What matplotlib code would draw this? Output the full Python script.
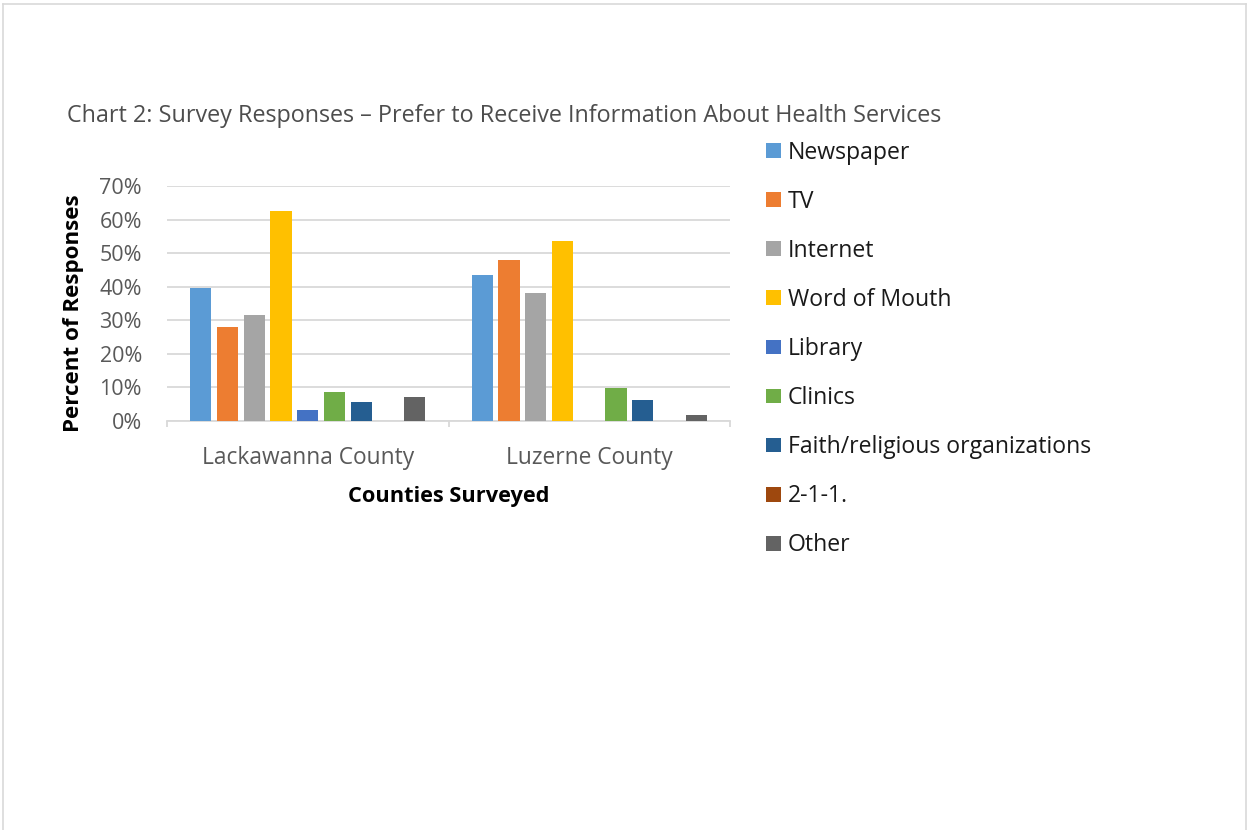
import matplotlib
matplotlib.use("Agg")
import matplotlib.pyplot as plt
import numpy as np
from matplotlib.patches import Rectangle
from matplotlib.lines import Line2D

plt.rcParams['font.family'] = ['Open Sans', 'DejaVu Sans']

# --- data -------------------------------------------------------------
counties = ["Lackawanna County", "Luzerne County"]
sources = ["Newspaper", "TV", "Internet", "Word of Mouth", "Library",
           "Clinics", "Faith/religious organizations", "2-1-1.", "Other"]
lackawanna = [39.6, 28.1, 31.6, 62.7, 3.4, 8.5, 5.6, 0.0, 7.0]
luzerne = [43.6, 48.1, 38.0, 53.6, 0.0, 9.9, 6.4, 0.0, 1.9]
colors = ["#5B9BD5", "#ED7D31", "#A5A5A5", "#FFC000", "#4472C4",
          "#70AD47", "#255E91", "#9E480E", "#636363"]
y_ticks = [0, 10, 20, 30, 40, 50, 60, 70]

W, H = 1248, 830
fig = plt.figure(figsize=(W / 100, H / 100), dpi=100)

# outer frame (open at the bottom)
frame = "#D9D9D9"
fig.add_artist(Line2D([2.5 / W, 2.5 / W], [0, 1 - 4.5 / H], color=frame, lw=1.2))
fig.add_artist(Line2D([2.5 / W, 1245.5 / W], [1 - 4.5 / H, 1 - 4.5 / H], color=frame, lw=1.2))
fig.add_artist(Line2D([1245.5 / W, 1245.5 / W], [0, 1 - 4.5 / H], color=frame, lw=1.2))

# plot area
left, right, bottom, top = 167, 730, 421, 186
ax = fig.add_axes([left / W, 1 - bottom / H, (right - left) / W, (bottom - top) / H])

series = np.array([lackawanna, luzerne]).T  # one row per source
x = np.arange(len(counties))
pitch = 0.095
width = 0.075
n = len(sources)
for i, (name, vals, c) in enumerate(zip(sources, series, colors)):
    ax.bar(x + (i - (n - 1) / 2) * pitch, np.array(vals) / 100, width=width,
           color=c, label=name, zorder=3)

ax.set_xlim(-0.5, len(counties) - 0.5)
ax.set_ylim(0, 0.7)
ax.set_yticks([v / 100 for v in y_ticks])
ax.set_yticklabels([f"{v}%" for v in y_ticks])
ax.grid(axis="y", color=frame, lw=1.3, zorder=0)
for s in ["left", "right", "top"]:
    ax.spines[s].set_visible(False)
ax.spines["bottom"].set_color(frame)
ax.spines["bottom"].set_linewidth(1.3)

ax.tick_params(axis="y", length=0, pad=18, labelsize=15.5, labelcolor="#595959")
ax.set_xticks(x)
ax.set_xticklabels(counties)
ax.tick_params(axis="x", which="major", length=0, pad=18, labelsize=16.4,
               labelcolor="#595959")
ax.set_xticks(np.arange(-0.5, len(counties)), minor=True)
ax.tick_params(axis="x", which="minor", length=4, width=1.3, color=frame)

ax.set_ylabel("Percent of Responses", fontsize=16.1, fontweight="bold",
              color="black", va="center")
ax.yaxis.set_label_coords((73 - left) / (right - left), (bottom - 313) / (bottom - top))
ax.set_xlabel("Counties Surveyed", fontsize=15.7, fontweight="bold",
              color="black", va="center")
ax.xaxis.set_label_coords(0.5, (bottom - 496) / (bottom - top))

fig.text(67 / W, 1 - 116 / H,
         "Chart 2: Survey Responses \u2013 Prefer to Receive Information About Health Services",
         fontsize=16.8, color="#4d4d4d", ha="left", va="center")

# legend
for i, (name, c) in enumerate(zip(sources, colors)):
    yc = 150.5 + 49.1 * i
    fig.add_artist(Rectangle((766 / W, 1 - (yc + 7.3) / H), 14.6 / W, 14.6 / H,
                             transform=fig.transFigure, color=c, lw=0))
    fig.text(788 / W, 1 - (yc + 8.0) / H, name, fontsize=16.6, color="#1a1a1a",
             ha="left", va="baseline")

fig.savefig("out.png", dpi=100)
